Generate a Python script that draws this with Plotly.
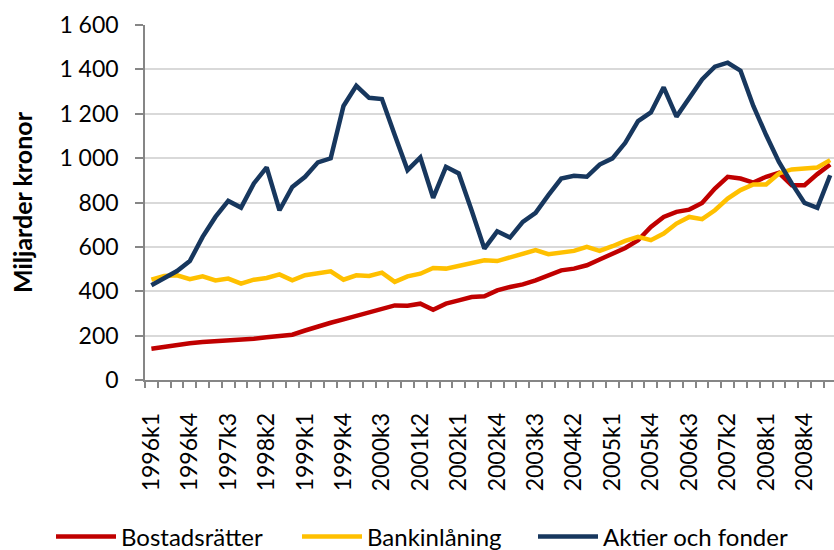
import plotly.graph_objects as go

quarters = [f"{y}k{q}" for y in range(1996, 2010) for q in range(1, 5)][:54]

bostadsratter = [141, 151, 159, 166, 171, 174, 178, 183, 186, 193, 198, 204, 223, 242, 258, 273,
                 288, 306, 321, 336, 335, 344, 317, 344, 359, 374, 377, 404, 419, 431, 449, 472,
                 494, 502, 517, 543, 570, 595, 630, 690, 735, 758, 768, 798, 863, 916, 908, 890,
                 916, 934, 878, 878, 928, 971]
bankinlaning = [452, 469, 472, 454, 467, 449, 457, 434, 452, 460, 476, 449, 472, 482, 490, 452,
                472, 469, 484, 442, 467, 479, 505, 502, 514, 527, 540, 536, 554, 570, 585, 567,
                574, 582, 600, 582, 603, 627, 645, 630, 660, 705, 735, 725, 765, 818, 856, 881,
                881, 931, 949, 953, 958, 991]
aktier_fonder = [427, 461, 491, 536, 645, 735, 807, 777, 886, 958, 765, 870, 916, 981, 999, 1235,
                 1326, 1272, 1266, 1104, 946, 1003, 821, 961, 931, 765, 592, 670, 642, 713, 753, 833,
                 908, 920, 916, 971, 999, 1069, 1167, 1206, 1319, 1187, 1272, 1355, 1412, 1430, 1394, 1235,
                 1104, 983, 886, 798, 776, 923]

series_names = ["Bostadsrätter", "Bankinlåning", "Aktier och fonder"]
series_colors = ["#C00000", "#FFC000", "#17375E"]
legend_ids = ["legend", "legend2", "legend3"]

y_tickvals = [0, 200, 400, 600, 800, 1000, 1200, 1400, 1600]
y_ticktext = ["0", "200", "400", "600", "800", "1 000", "1 200", "1 400", "1 600"]

idx = list(range(len(quarters)))
FONT = "Lato, 'Open Sans', sans-serif"

W, H = 834, 550

fig = go.Figure()
for name, vals, col, lg in zip(series_names, [bostadsratter, bankinlaning, aktier_fonder],
                               series_colors, legend_ids):
    fig.add_trace(go.Scatter(x=idx, y=vals, mode="lines", name=name, legend=lg,
                             line=dict(color=col, width=4.5)))

legend_x_px = [51, 297, 533]
legend_common = dict(orientation="h", xref="container", yref="container",
                     xanchor="left", yanchor="middle", y=13 / H,
                     font=dict(size=24), itemwidth=60, bgcolor="rgba(0,0,0,0)")

fig.update_layout(
    width=W, height=H,
    margin=dict(l=145, r=0, t=25, b=170, autoexpand=False),
    plot_bgcolor="white", paper_bgcolor="white",
    font=dict(family=FONT, color="#000000", size=21),
    showlegend=True,
    hovermode=False,
    legend=dict(x=legend_x_px[0] / W, **legend_common),
    legend2=dict(x=legend_x_px[1] / W, **legend_common),
    legend3=dict(x=legend_x_px[2] / W, **legend_common),
)

fig.update_xaxes(
    range=[-0.5, 53.3],
    automargin=False,
    tickmode="array",
    tickvals=idx[::3],
    ticktext=quarters[::3],
    tickangle=-90,
    ticks="outside", ticklen=22, tickcolor="rgba(0,0,0,0)",
    tickfont=dict(size=23),
    showline=True, linecolor="#868686", linewidth=1.5,
    showgrid=False, zeroline=False,
    minor=dict(tickvals=[i - 0.5 for i in idx] + [53.5], ticks="outside", ticklen=6,
               tickcolor="#868686", tickwidth=1.5, showgrid=False),
)

fig.update_yaxes(
    range=[0, 1600],
    automargin=False,
    tickmode="array", tickvals=y_tickvals, ticktext=y_ticktext,
    ticks="outside", ticklen=8, tickcolor="#868686", tickwidth=1.5,
    ticklabelstandoff=12,
    tickfont=dict(size=23),
    showline=True, linecolor="#868686", linewidth=1.5,
    showgrid=True, gridcolor="#D9D9D9", gridwidth=1.5,
    zeroline=False,
    title=dict(text="<b>Miljarder kronor</b>", font=dict(size=25), standoff=20),
)

fig.write_html("out.html",
               config={"displayModeBar": False},
               post_script="document.body.style.margin='0px';document.documentElement.style.overflow='hidden';")
